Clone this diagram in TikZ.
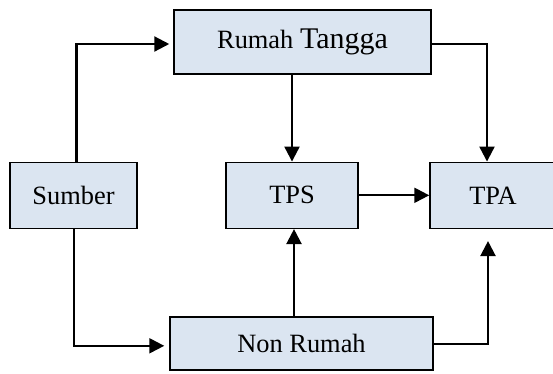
\documentclass[tikz,border=0pt]{standalone}
\usepackage{fontspec}
\setmainfont{Liberation Serif}
\usetikzlibrary{arrows.meta}
\definecolor{boxfill}{HTML}{DBE5F1}
\tikzset{
  box/.style={draw=black, line width=1.5pt, fill=boxfill, rectangle, inner sep=0pt,
    font=\fontsize{26.4}{30}\selectfont},
  arr/.style={line width=2.2pt, -{Triangle[length=15pt,width=15pt]}},
}
\begin{document}
\begin{tikzpicture}[x=1pt,y=-1pt]
\useasboundingbox (0,0) rectangle (553,373);
\clip (0,0) rectangle (553,373);
\node[box, minimum width=257pt, minimum height=64pt] (RT) at (302.5,42)
  {Rumah {\fontsize{30}{34}\selectfont Tangga}};
\node[box, minimum width=127pt, minimum height=66pt] (S) at (73.5,195.7) {Sumber};
\node[box, minimum width=132pt, minimum height=66pt] (TPS) at (292,195.3) {TPS};
\node[box, minimum width=126pt, minimum height=66pt] (TPA) at (493,195.3) {TPA};
\node[box, minimum width=263pt, minimum height=53pt] (NR) at (301.5,343.3) {Non Rumah};

\draw[arr] ([xshift=3pt]S.north) |- ([xshift=-4pt,yshift=-2pt]RT.west);
\draw[arr] (TPS.north |- RT.south) -- (TPS.north);
\draw[arr] ([yshift=-2pt]RT.east) -| ([xshift=-6pt]TPA.north);
\draw[arr] (TPS.east) -- (TPA.west);
\draw[arr] ([xshift=0.5pt]S.south) |- ([xshift=-5pt,yshift=-2.5pt]NR.west);
\draw[arr] ([xshift=2pt]TPS.south |- NR.north) -- ([xshift=2pt]TPS.south);
\draw[arr] ([yshift=-0.7pt]NR.east) -| ([xshift=-5pt,yshift=-12pt]TPA.south);
\end{tikzpicture}
\end{document}
